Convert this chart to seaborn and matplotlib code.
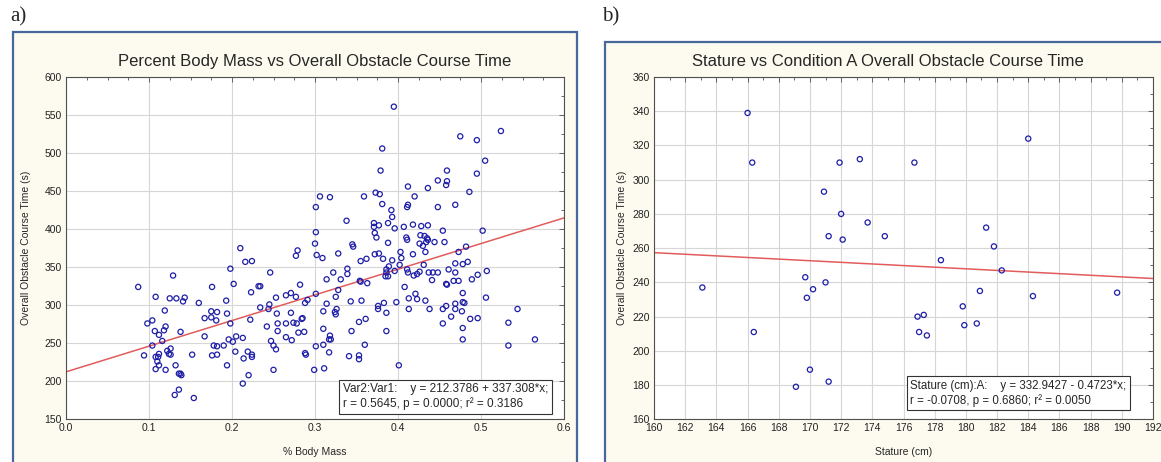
import matplotlib
matplotlib.use('Agg')
import matplotlib.pyplot as plt
import seaborn as sns
from matplotlib.patches import Rectangle
from matplotlib.ticker import MultipleLocator

# ── data ──────────────────────────────────────────────────────────────────
# a) percent body mass (fraction) vs overall obstacle course time (s)
body_mass_pct = [
    0.087, 0.129, 0.210, 0.216, 0.224, 0.198, 0.246, 0.202, 0.232, 0.234,
    0.223, 0.176, 0.108, 0.125, 0.133, 0.141, 0.143, 0.160, 0.193, 0.119,
    0.104, 0.098, 0.107, 0.112, 0.118, 0.120, 0.138, 0.116, 0.104, 0.094,
    0.122, 0.126, 0.124, 0.126, 0.108, 0.111, 0.112, 0.110, 0.108, 0.112,
    0.120, 0.132, 0.136, 0.138, 0.139, 0.136, 0.131, 0.154, 0.152, 0.167,
    0.175, 0.175, 0.182, 0.181, 0.194, 0.198, 0.167, 0.178, 0.182, 0.176,
    0.182, 0.190, 0.196, 0.201, 0.205, 0.213, 0.204, 0.214, 0.219, 0.224,
    0.224, 0.194, 0.220, 0.213, 0.222, 0.234, 0.242, 0.244, 0.245, 0.253,
    0.254, 0.255, 0.255, 0.247, 0.250, 0.253, 0.250, 0.265, 0.271, 0.277,
    0.282, 0.271, 0.265, 0.274, 0.278, 0.284, 0.285, 0.265, 0.272, 0.280,
    0.287, 0.288, 0.289, 0.288, 0.291, 0.299, 0.301, 0.301, 0.277, 0.279,
    0.302,
    0.309, 0.328, 0.372, 0.377, 0.403, 0.404, 0.382, 0.418, 0.433, 0.431,
    0.355, 0.362, 0.473, 0.478, 0.484, 0.469, 0.314, 0.322, 0.339, 0.339,
    0.331, 0.354, 0.355, 0.363, 0.386, 0.386, 0.385, 0.388, 0.389, 0.393,
    0.396, 0.411, 0.412, 0.419, 0.423, 0.426, 0.437, 0.442, 0.448, 0.441,
    0.461, 0.469, 0.458, 0.459, 0.467, 0.473, 0.489, 0.496, 0.507, 0.328,
    0.325, 0.314, 0.310, 0.343, 0.356, 0.326, 0.324, 0.325, 0.310, 0.318,
    0.317, 0.319, 0.310, 0.311, 0.317, 0.341, 0.353, 0.353, 0.344, 0.353,
    0.361, 0.360, 0.376, 0.376, 0.383, 0.386, 0.386, 0.398, 0.401, 0.408,
    0.413, 0.413, 0.421, 0.423, 0.433, 0.438, 0.454, 0.454, 0.458, 0.464,
    0.469, 0.469, 0.477, 0.478, 0.480, 0.478, 0.478, 0.478, 0.487, 0.496,
    0.506, 0.533, 0.533, 0.544, 0.565, 0.402,
    0.395, 0.524, 0.475, 0.495, 0.381, 0.505, 0.379, 0.459, 0.495, 0.448,
    0.459, 0.458, 0.412, 0.436, 0.486, 0.306, 0.318, 0.359, 0.373, 0.378,
    0.420, 0.301, 0.381, 0.469, 0.448, 0.392, 0.393, 0.412, 0.411, 0.338,
    0.371, 0.371, 0.377, 0.388, 0.396, 0.407, 0.418, 0.428, 0.436, 0.454,
    0.502, 0.301, 0.372, 0.374, 0.410, 0.411, 0.427, 0.432, 0.435, 0.436,
    0.434, 0.426, 0.430, 0.444, 0.456, 0.300, 0.345, 0.346, 0.388, 0.482,
]
course_time_a = [
    324, 339, 375, 357, 358, 348, 343, 328, 325, 325,
    317, 324, 311, 309, 309, 305, 310, 303, 306, 293,
    280, 276, 266, 261, 267, 272, 265, 253, 247, 234,
    240, 243, 236, 235, 232, 232, 236, 226, 216, 221,
    215, 221, 210, 210, 208, 189, 182, 178, 235, 283,
    292, 284, 291, 280, 289, 276, 259, 247, 246, 234,
    235, 247, 255, 252, 259, 257, 239, 230, 239, 235,
    232, 221, 208, 197, 281, 297, 272, 295, 301, 310,
    289, 276, 266, 253, 247, 242, 215, 313, 316, 311,
    327, 290, 276, 277, 276, 282, 283, 258, 254, 264,
    265, 237, 235, 303, 307, 215, 246, 315, 365, 372,
    366,
    362, 368, 367, 368, 370, 362, 361, 367, 370, 353,
    358, 361, 370, 354, 357, 355, 334, 343, 348, 341,
    334, 332, 331, 329, 347, 343, 338, 338, 351, 359,
    345, 347, 343, 339, 341, 344, 343, 343, 343, 333,
    347, 343, 328, 327, 332, 332, 334, 340, 345, 320,
    311, 302, 292, 305, 306, 295, 291, 288, 269, 260,
    255, 255, 248, 217, 238, 233, 234, 229, 266, 278,
    282, 248, 299, 295, 303, 290, 266, 304, 221, 324,
    309, 295, 315, 308, 306, 295, 295, 276, 299, 285,
    302, 295, 292, 304, 303, 316, 270, 255, 282, 283,
    310, 277, 247, 295, 255, 353,
    561, 529, 522, 517, 506, 490, 477, 477, 473, 464,
    463, 458, 456, 454, 449, 443, 442, 443, 448, 446,
    443, 429, 433, 432, 429, 425, 416, 432, 429, 411,
    408, 403, 405, 408, 401, 403, 406, 404, 405, 398,
    398, 396, 395, 389, 389, 386, 392, 391, 388, 386,
    383, 381, 378, 383, 383, 381, 380, 377, 382, 377,
]

# b) stature (cm) vs condition A course time (s)
stature_cm = [
    163.1, 166.0, 166.3, 166.4, 169.1, 169.7, 169.8, 170.0, 170.2, 170.9,
    171.0, 171.2, 171.2, 171.9, 172.0, 172.1, 173.2, 173.7, 174.8, 176.7,
    176.9, 177.0, 177.3, 177.5, 178.4, 179.8, 179.9, 180.7, 180.9, 181.3,
    181.8, 182.3, 184.0, 184.3, 189.7,
]
course_time_b = [
    237, 339, 310, 211, 179, 243, 231, 189, 236, 293,
    240, 267, 182, 310, 280, 265, 312, 275, 267, 310,
    220, 211, 221, 209, 253, 226, 215, 216, 235, 272,
    261, 247, 324, 232, 234,
]

# regression coefficients printed on the chart (intercept, slope)
fit_a = (212.3786, 337.308)
fit_b = (332.9427, -0.4723)
stats_a = "Var2:Var1:    y = 212.3786 + 337.308*x;\nr = 0.5645, p = 0.0000; r² = 0.3186"
stats_b = "Stature (cm):A:    y = 332.9427 - 0.4723*x;\nr = -0.0708, p = 0.6860; r² = 0.0050"

# ── style ────────────────────────────────────────────────────────────────
sns.set_style('white')
plt.rcParams['font.family'] = ['Liberation Sans', 'DejaVu Sans']

point_color = '#1e1ea8'
line_color = '#e25c5c'
panel_bg = '#fdfaf0'
panel_edge = '#46689a'

W, H = 1161, 462
fig = plt.figure(figsize=(W / 100, H / 100), dpi=100)
fig.patch.set_facecolor('white')

# cream panels with blue border (bottom runs off the page)
fig.add_artist(Rectangle((13 / W, -0.1), 564 / W, 0.1 + (H - 32) / H,
                         transform=fig.transFigure, facecolor=panel_bg,
                         edgecolor=panel_edge, lw=1.6, zorder=-1))
fig.add_artist(Rectangle((605 / W, -0.1), 0.6, 0.1 + (H - 42) / H,
                         transform=fig.transFigure, facecolor=panel_bg,
                         edgecolor=panel_edge, lw=1.6, zorder=-1))

fig.text(10 / W, 1 - 17 / H, 'a)', family=['Liberation Serif', 'DejaVu Serif'],
         fontsize=15, va='center', ha='left')
fig.text(602 / W, 1 - 17 / H, 'b)', family=['Liberation Serif', 'DejaVu Serif'],
         fontsize=15, va='center', ha='left')

ax_a = fig.add_axes([66 / W, 42.7 / H, 498 / W, 342.3 / H])
ax_b = fig.add_axes([654 / W, 42.7 / H, 499 / W, 342.3 / H])


def style_axes(ax):
    ax.set_facecolor('white')
    ax.grid(True, which='major', color='#d6d6d6', lw=0.8)
    ax.set_axisbelow(True)
    for sp in ax.spines.values():
        sp.set_color('#505050')
        sp.set_linewidth(0.8)
    ax.tick_params(which='both', direction='in', top=True, right=True,
                   width=0.6, color='#505050', labelsize=7.5, labelcolor='#222222')
    ax.tick_params(which='major', length=3.5, pad=3)
    ax.tick_params(which='minor', length=2)


# ── panel a ──────────────────────────────────────────────────────────────
sns.scatterplot(x=body_mass_pct, y=course_time_a, ax=ax_a, marker='o', s=14,
                facecolor='none', edgecolor=point_color, linewidth=0.9, zorder=3)
ax_a.axline((0, fit_a[0]), slope=fit_a[1], color=line_color, lw=1.1, zorder=2)
ax_a.set_xlim(0, 0.6)
ax_a.set_ylim(150, 600)
ax_a.xaxis.set_major_locator(MultipleLocator(0.1))
ax_a.xaxis.set_minor_locator(MultipleLocator(0.025))
ax_a.yaxis.set_major_locator(MultipleLocator(50))
ax_a.yaxis.set_minor_locator(MultipleLocator(25))
style_axes(ax_a)
ax_a.set_title('Percent Body Mass vs Overall Obstacle Course Time', fontsize=12, pad=8)
ax_a.set_xlabel('% Body Mass', fontsize=7.5, labelpad=10)
ax_a.set_ylabel('Overall Obstacle Course Time (s)', fontsize=7.5, labelpad=10)
ax_a.text(0.556, 0.026, stats_a, transform=ax_a.transAxes, fontsize=8.5,
          va='bottom', ha='left', linespacing=1.25, zorder=5,
          bbox=dict(boxstyle='square,pad=0.3', fc='white', ec='#333333', lw=0.8))

# ── panel b ──────────────────────────────────────────────────────────────
sns.scatterplot(x=stature_cm, y=course_time_b, ax=ax_b, marker='o', s=14,
                facecolor='none', edgecolor=point_color, linewidth=0.9, zorder=3)
ax_b.axline((0, fit_b[0]), slope=fit_b[1], color=line_color, lw=1.1, zorder=2)
ax_b.set_xlim(160, 192)
ax_b.set_ylim(160, 360)
ax_b.xaxis.set_major_locator(MultipleLocator(2))
ax_b.xaxis.set_minor_locator(MultipleLocator(1))
ax_b.yaxis.set_major_locator(MultipleLocator(20))
ax_b.yaxis.set_minor_locator(MultipleLocator(10))
style_axes(ax_b)
ax_b.set_title('Stature vs Condition A Overall Obstacle Course Time', fontsize=12,
               pad=8, x=0.469)
ax_b.set_xlabel('Stature (cm)', fontsize=7.5, labelpad=10)
ax_b.set_ylabel('Overall Obstacle Course Time (s)', fontsize=7.5, labelpad=4)
ax_b.text(0.514, 0.036, stats_b, transform=ax_b.transAxes, fontsize=8.3,
          va='bottom', ha='left', linespacing=1.25, zorder=5,
          bbox=dict(boxstyle='square,pad=0.3', fc='white', ec='#333333', lw=0.8))

plt.savefig('out.png', dpi=100)
plt.close()
